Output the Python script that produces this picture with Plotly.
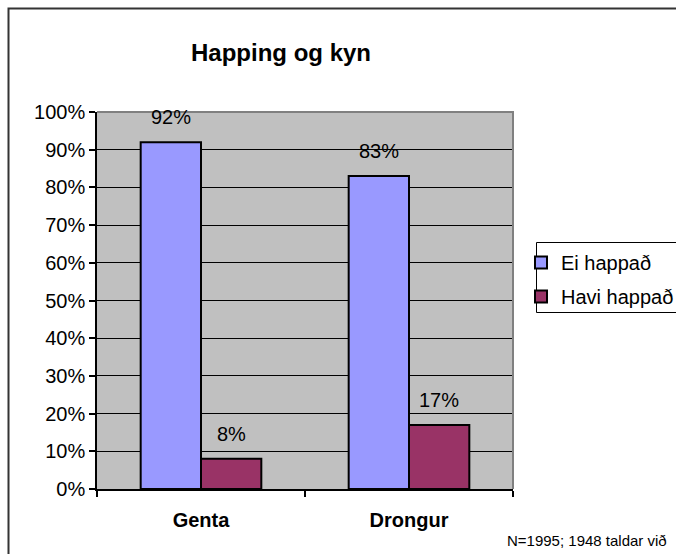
import plotly.graph_objects as go

categories = ["Genta", "Drongur"]
series_names = ["Ei happað", "Havi happað"]
ei_happad = [92, 83]
havi_happad = [8, 17]
y_ticks = [0, 10, 20, 30, 40, 50, 60, 70, 80, 90, 100]
y_tick_labels = [f"{v}%" for v in y_ticks]
title_text = "Happing og kyn"
note_text = "N=1995; 1948 taldar við"

colors = ["#9999FF", "#993366"]
FONT = "Liberation Sans, Arial, sans-serif"

fig = go.Figure()
for name, vals, col in zip(series_names, [ei_happad, havi_happad], colors):
    fig.add_trace(go.Bar(
        x=categories, y=vals, name=name, legendgroup=name,
        marker=dict(color=col, line=dict(color="black", width=2)),
    ))

annotations = []
for vals, xs in [(ei_happad, -30), (havi_happad, 30)]:
    for c, v in zip(categories, vals):
        annotations.append(dict(
            x=c, y=v, xref="x", yref="y", text=f"{v}%", showarrow=False,
            xshift=xs, yshift=25, yanchor="middle", xanchor="center",
            font=dict(family=FONT, size=20, color="black"),
        ))

annotations.append(dict(
    x=(281 - 97) / 416, y=(489 - 52) / 377, xref="paper", yref="paper",
    text=f"<b>{title_text}</b>", showarrow=False, xanchor="center", yanchor="middle",
    font=dict(family=FONT, size=24, color="black"),
))
annotations.append(dict(
    x=(669 - 97) / 416, y=(489 - 540) / 377, xref="paper", yref="paper",
    text=note_text, showarrow=False, xanchor="right", yanchor="middle",
    font=dict(family=FONT, size=15, color="black"),
))

shapes = [
    # outer chart border (extends past page edges on right/bottom)
    dict(type="rect", xref="paper", yref="paper",
         x0=(8.5 - 97) / 416, x1=(700 - 97) / 416,
         y0=(489 - 600) / 377, y1=(489 - 8.5) / 377,
         line=dict(color="#333333", width=2), fillcolor="rgba(0,0,0,0)", layer="below"),
    # legend box (extends past right page edge)
    dict(type="rect", xref="paper", yref="paper",
         x0=(536.5 - 97) / 416, x1=(700 - 97) / 416,
         y0=(489 - 312.5) / 377, y1=(489 - 242.5) / 377,
         line=dict(color="black", width=1), fillcolor="white", layer="below"),
    # plot area top / right border
    dict(type="path", xref="paper", yref="paper",
         path="M 0,1 L 1,1 L 1,0",
         line=dict(color="#808080", width=2), layer="above"),
]

fig.update_layout(
    width=676, height=554, autosize=False,
    margin=dict(l=97, r=163, t=112, b=65, pad=0, autoexpand=False),
    paper_bgcolor="white", plot_bgcolor="#C0C0C0",
    barmode="group", bargap=0.42, bargroupgap=0,
    font=dict(family=FONT, size=20, color="black"),
    showlegend=True,
    legend=dict(
        x=(521 - 97) / 416, y=(489 - 243) / 377, xanchor="left", yanchor="top",
        borderwidth=0, bgcolor="rgba(0,0,0,0)",
        font=dict(family=FONT, size=20, color="black"),
        itemwidth=30, tracegroupgap=5,
    ),
    annotations=annotations,
    shapes=shapes,
)
fig.update_yaxes(
    range=[0, 100], tickvals=y_ticks, ticktext=y_tick_labels,
    showgrid=True, gridcolor="black", gridwidth=1,
    showline=True, linecolor="black", linewidth=1.5,
    ticks="outside", ticklen=6, tickcolor="black", tickwidth=1.5,
    zeroline=False, fixedrange=True, automargin=False,
    tickfont=dict(family=FONT, size=20, color="black"),
)
fig.update_xaxes(
    showline=True, linecolor="black", linewidth=1.5,
    ticks="outside", ticklen=6, tickcolor="black", tickwidth=1.5,
    tickson="boundaries", showgrid=False, automargin=False,
    ticklabelstandoff=12,
    tickfont=dict(family=FONT, size=20, color="black", weight="bold"),
)

fig.write_html(
    "out.html",
    config={"responsive": False, "displayModeBar": False},
    post_script="document.body.style.margin='0px';document.documentElement.style.overflow='hidden';",
)
